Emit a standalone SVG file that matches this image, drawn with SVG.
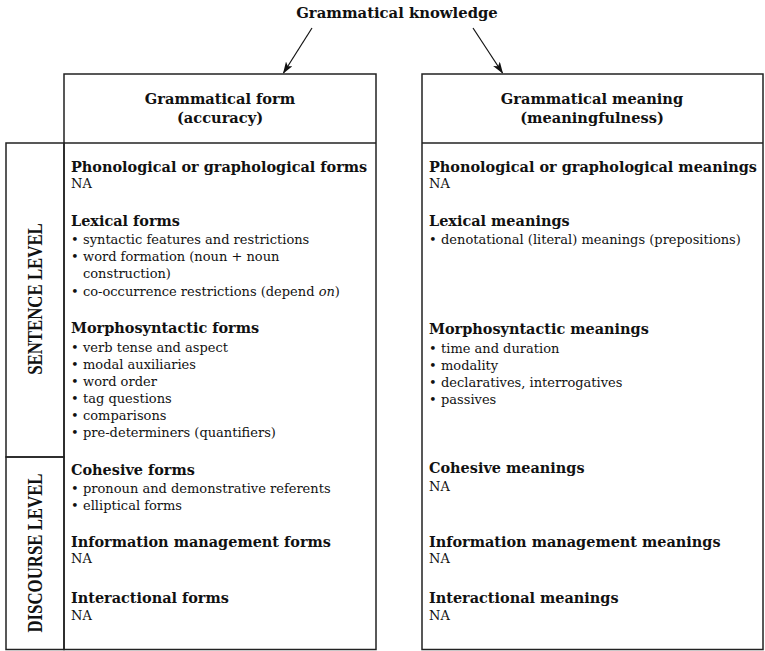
<svg xmlns="http://www.w3.org/2000/svg" width="765" height="651" viewBox="0 0 765 651">
  <defs>
    <style>
      text { font-family: "DejaVu Serif", "Liberation Serif", serif; fill: #111; }
      .title { font-size: 14.8px; font-weight: bold; }
      .hd { font-size: 14.6px; font-weight: bold; text-anchor: middle; }
      .h { font-size: 14.45px; font-weight: bold; }
      .t { font-size: 13px; }
      .side { font-family: "Liberation Serif", serif; font-size: 16.8px; font-weight: bold; text-anchor: middle; }
      .box { fill: none; stroke: #222; stroke-width: 1.5; }
      .conn { fill: none; stroke: #111; stroke-width: 1.2; }
    </style>
    <marker id="arrow" viewBox="0 0 12 8" refX="11" refY="4" markerWidth="12" markerHeight="8" markerUnits="userSpaceOnUse" orient="auto">
      <path d="M0,0 L12,4 L0,8 L3,4 z" fill="#111"/>
    </marker>
  </defs>

  <g id="root">
    <text class="title" x="397" y="18" text-anchor="middle">Grammatical knowledge</text>
  </g>

  <g id="connectors">
    <line class="conn" x1="312" y1="28" x2="283.5" y2="73" marker-end="url(#arrow)"/>
    <line class="conn" x1="473" y1="28" x2="502.5" y2="73" marker-end="url(#arrow)"/>
  </g>

  <!-- level labels on the left edge -->
  <g id="levels">
    <rect class="box" x="6" y="143" width="58" height="314"/>
    <rect class="box" x="6" y="457" width="58" height="192.5"/>
    <text class="side" transform="translate(41.5 299) rotate(-90) scale(1 1.2)">SENTENCE LEVEL</text>
    <text class="side" transform="translate(41.5 553) rotate(-90) scale(1 1.2)">DISCOURSE LEVEL</text>
  </g>

  <!-- form column -->
  <g id="form">
    <rect class="box" x="64" y="74" width="312" height="575.5"/>
    <line class="box" x1="64" y1="143" x2="376" y2="143"/>
    <text class="hd" x="220" y="104">Grammatical form</text>
    <text class="hd" x="220" y="123">(accuracy)</text>

    <text class="h" x="71" y="172">Phonological or graphological forms</text>
    <text class="t" x="71" y="188">NA</text>

    <text class="h" x="71" y="226">Lexical forms</text>
    <text class="t" x="71" y="244">•</text><text class="t" x="83" y="244">syntactic features and restrictions</text>
    <text class="t" x="71" y="261">•</text><text class="t" x="83" y="261">word formation (noun + noun</text>
    <text class="t" x="83" y="278">construction)</text>
    <text class="t" x="71" y="296">•</text><text class="t" x="83" y="296">co-occurrence restrictions (depend <tspan font-style="italic">on</tspan>)</text>

    <text class="h" x="71" y="333">Morphosyntactic forms</text>
    <text class="t" x="71" y="352">•</text><text class="t" x="83" y="352">verb tense and aspect</text>
    <text class="t" x="71" y="369">•</text><text class="t" x="83" y="369">modal auxiliaries</text>
    <text class="t" x="71" y="386">•</text><text class="t" x="83" y="386">word order</text>
    <text class="t" x="71" y="403">•</text><text class="t" x="83" y="403">tag questions</text>
    <text class="t" x="71" y="420">•</text><text class="t" x="83" y="420">comparisons</text>
    <text class="t" x="71" y="437">•</text><text class="t" x="83" y="437">pre-determiners (quantifiers)</text>

    <text class="h" x="71" y="475">Cohesive forms</text>
    <text class="t" x="71" y="493">•</text><text class="t" x="83" y="493">pronoun and demonstrative referents</text>
    <text class="t" x="71" y="510">•</text><text class="t" x="83" y="510">elliptical forms</text>

    <text class="h" x="71" y="547">Information management forms</text>
    <text class="t" x="71" y="563">NA</text>

    <text class="h" x="71" y="603">Interactional forms</text>
    <text class="t" x="71" y="620">NA</text>
  </g>

  <!-- meaning column -->
  <g id="meaning">
    <rect class="box" x="422" y="74" width="341" height="575.5"/>
    <line class="box" x1="422" y1="143" x2="763" y2="143"/>
    <text class="hd" x="592" y="104">Grammatical meaning</text>
    <text class="hd" x="592" y="123">(meaningfulness)</text>

    <text class="h" x="429" y="172">Phonological or graphological meanings</text>
    <text class="t" x="429" y="188">NA</text>

    <text class="h" x="429" y="226">Lexical meanings</text>
    <text class="t" x="429" y="244">•</text><text class="t" x="441" y="244">denotational (literal) meanings (prepositions)</text>

    <text class="h" x="429" y="334">Morphosyntactic meanings</text>
    <text class="t" x="429" y="353">•</text><text class="t" x="441" y="353">time and duration</text>
    <text class="t" x="429" y="370">•</text><text class="t" x="441" y="370">modality</text>
    <text class="t" x="429" y="387">•</text><text class="t" x="441" y="387">declaratives, interrogatives</text>
    <text class="t" x="429" y="404">•</text><text class="t" x="441" y="404">passives</text>

    <text class="h" x="429" y="473">Cohesive meanings</text>
    <text class="t" x="429" y="491">NA</text>

    <text class="h" x="429" y="547">Information management meanings</text>
    <text class="t" x="429" y="563">NA</text>

    <text class="h" x="429" y="603">Interactional meanings</text>
    <text class="t" x="429" y="620">NA</text>
  </g>
</svg>
